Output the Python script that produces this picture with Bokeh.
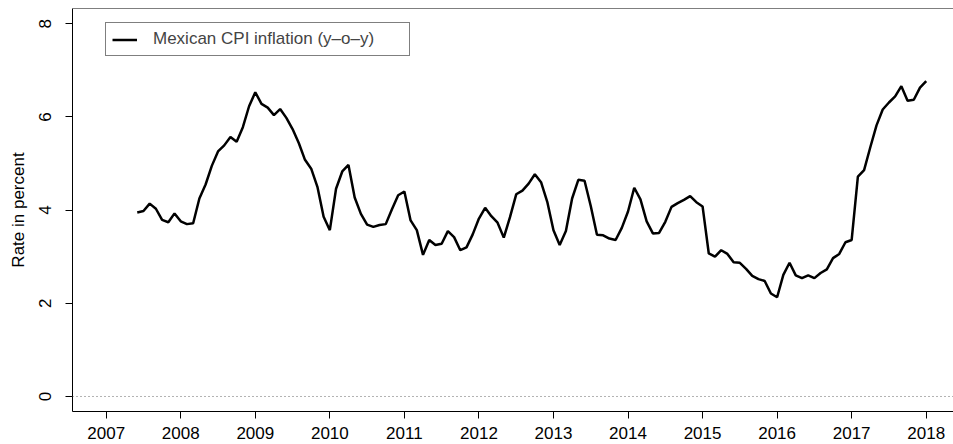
from bokeh.plotting import figure
from bokeh.models import Span, Legend, LegendItem, FixedTicker, Range1d
from bokeh.embed import file_html
from bokeh.resources import INLINE

# Mexican CPI inflation, y-o-y, monthly, May 2007 - Dec 2017 (plotted at year + month/12)
start_year = 2007
start_month = 5
infl_2007 = [3.95, 3.98, 4.14, 4.03, 3.79, 3.74, 3.93, 3.76]
infl_2008 = [3.70, 3.72, 4.25, 4.55, 4.95, 5.26, 5.39, 5.57, 5.47, 5.78, 6.23, 6.53]
infl_2009 = [6.28, 6.20, 6.04, 6.17, 5.98, 5.74, 5.44, 5.08, 4.89, 4.50, 3.86, 3.57]
infl_2010 = [4.46, 4.83, 4.97, 4.27, 3.92, 3.69, 3.64, 3.68, 3.70, 4.02, 4.32, 4.40]
infl_2011 = [3.78, 3.57, 3.04, 3.36, 3.25, 3.28, 3.55, 3.42, 3.14, 3.20, 3.48, 3.82]
infl_2012 = [4.05, 3.87, 3.73, 3.41, 3.85, 4.34, 4.42, 4.57, 4.77, 4.60, 4.18, 3.57]
infl_2013 = [3.25, 3.55, 4.25, 4.65, 4.63, 4.09, 3.47, 3.46, 3.39, 3.36, 3.62, 3.97]
infl_2014 = [4.48, 4.23, 3.76, 3.50, 3.51, 3.75, 4.07, 4.15, 4.22, 4.30, 4.17, 4.08]
infl_2015 = [3.07, 3.00, 3.14, 3.06, 2.88, 2.87, 2.74, 2.59, 2.52, 2.48, 2.21, 2.13]
infl_2016 = [2.61, 2.87, 2.60, 2.54, 2.60, 2.54, 2.65, 2.73, 2.97, 3.06, 3.31, 3.36]
infl_2017 = [4.72, 4.86, 5.35, 5.82, 6.16, 6.31, 6.44, 6.66, 6.35, 6.37, 6.63, 6.77]

x_ticks = [2007, 2008, 2009, 2010, 2011, 2012, 2013, 2014, 2015, 2016, 2017, 2018]
y_ticks = [0, 2, 4, 6, 8]
series_label = "Mexican CPI inflation (y\u2013o\u2013y)"
y_label = "Rate in percent"

values = (infl_2007 + infl_2008 + infl_2009 + infl_2010 + infl_2011 + infl_2012 +
          infl_2013 + infl_2014 + infl_2015 + infl_2016 + infl_2017)
times = [start_year + (start_month + i) / 12.0 for i in range(len(values))]

FONT = "Liberation Sans"
FS = "17px"
Y_TOP = 8.328

p = figure(width=953, height=444, output_backend="svg", toolbar_location=None,
           x_range=Range1d(2006.548, 2018.366), y_range=Range1d(-0.322, Y_TOP),
           min_border_left=72, min_border_right=0, min_border_top=8, min_border_bottom=33)
p.outline_line_color = None
p.xgrid.visible = False
p.ygrid.visible = False
p.background_fill_color = "white"
p.border_fill_color = "white"

# zero line
p.add_layout(Span(location=0, dimension="width", line_color="#666666",
                  line_dash="1 3", line_width=1))
# top border of box
p.add_layout(Span(location=Y_TOP, dimension="width", line_color="black", line_width=1))

r = p.line(times, values, line_color="black", line_width=2.5)

for ax in (p.xaxis[0], p.yaxis[0]):
    ax.axis_line_color = "black"
    ax.axis_line_width = 1
    ax.major_tick_line_color = "black"
    ax.major_tick_out = 7
    ax.major_tick_in = 0
    ax.minor_tick_line_color = None
    ax.major_label_text_font = FONT
    ax.major_label_text_font_size = FS
    ax.major_label_text_color = "black"

p.xaxis[0].ticker = FixedTicker(ticks=x_ticks)
p.xaxis[0].major_label_standoff = 8
p.yaxis[0].ticker = FixedTicker(ticks=y_ticks)
p.yaxis[0].major_label_orientation = "vertical"
p.yaxis[0].major_label_standoff = 14
p.yaxis[0].axis_label = y_label
p.yaxis[0].axis_label_text_font = FONT
p.yaxis[0].axis_label_text_font_size = FS
p.yaxis[0].axis_label_text_font_style = "normal"
p.yaxis[0].axis_label_text_color = "black"
p.yaxis[0].axis_label_standoff = 9

legend = Legend(items=[LegendItem(label=series_label, renderers=[r])],
                location=(33, 355), margin=0, padding=6,
                glyph_width=25, glyph_height=15, label_height=15,
                label_width=250, label_standoff=16,
                label_text_font=FONT, label_text_font_size=FS,
                border_line_color="black", border_line_width=1,
                background_fill_color="white", background_fill_alpha=1)
p.add_layout(legend)

open("out.html", "w").write(file_html(p, INLINE))
